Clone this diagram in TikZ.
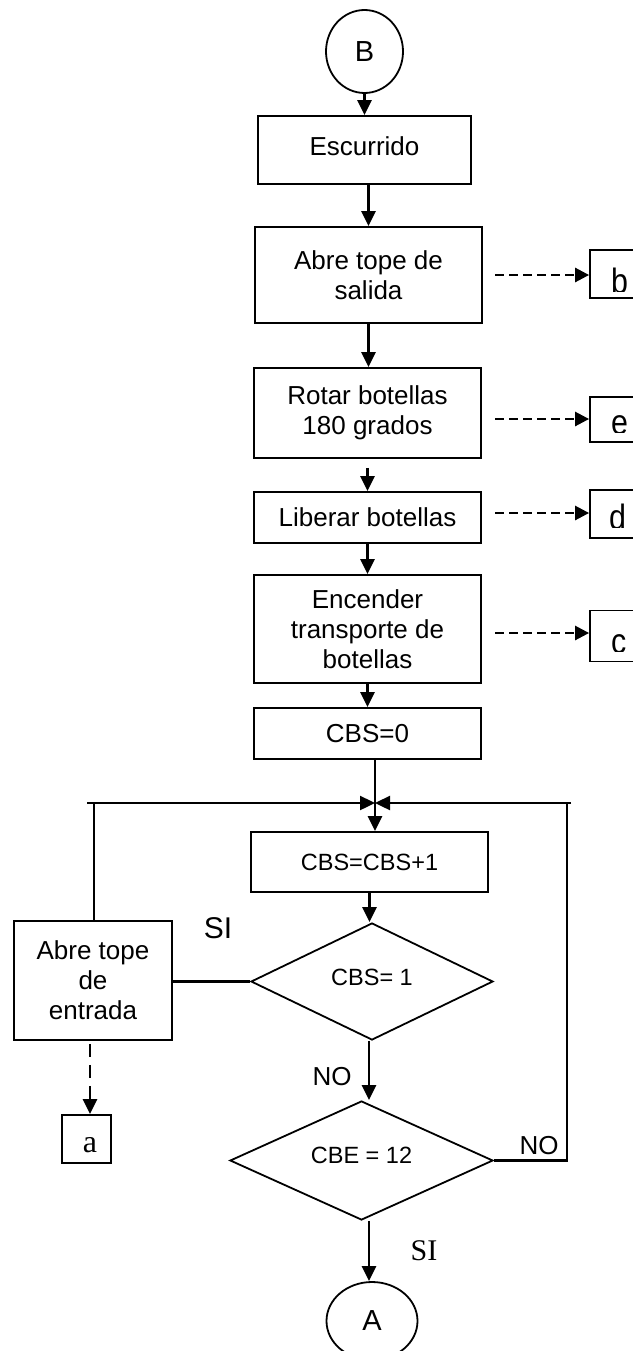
\documentclass[tikz,border=0pt]{standalone}
\usepackage{fontspec}
\setmainfont{Liberation Sans}
\newfontfamily\seriffont{Liberation Serif}
\usetikzlibrary{arrows.meta,shapes.geometric}
\begin{document}
\begin{tikzpicture}[x=1pt,y=-1pt,
  box/.style={draw,line width=1.8pt,inner sep=0pt,align=center,font=\fontsize{26}{30}\selectfont},
  dia/.style={draw,diamond,aspect=2,line width=1.8pt,inner sep=0pt,font=\fontsize{23.5}{28}\selectfont},
  term/.style={draw,ellipse,line width=1.8pt,inner sep=0pt,font=\fontsize{29}{34}\selectfont},
  conn/.style={line width=2.4pt},
  arr/.style={line width=2.4pt,-{Triangle[length=15pt,width=14pt]}},
  darr/.style={line width=2.6pt,dash pattern=on 8.5pt off 5.5pt,-{Triangle[length=14pt,width=14pt]}},
  darrv/.style={line width=2.8pt,dash pattern=on 13pt off 8pt,-{Triangle[length=15pt,width=14pt]}},
  letter/.style={anchor=base west,inner sep=0pt,font=\fontsize{32}{36}\selectfont},
  lbl/.style={inner sep=0pt,font=\fontsize{26}{30}\selectfont}
]
\useasboundingbox (0,0) rectangle (632,1351);

% terminals
\node[term,minimum width=77pt,minimum height=83pt] (B) at (364.5,51.5) {B};
\node[term,minimum width=91pt,minimum height=78pt] (A) at (372,1321) {A};

% process boxes
\node[box,minimum width=213pt,minimum height=68pt] (esc) at (364.5,150) {\raisebox{7pt}{Escurrido}};
\node[box,minimum width=227pt,minimum height=96pt] (abre) at (368.5,275) {Abre tope de\\salida};
\node[box,minimum width=227pt,minimum height=90pt] (rot) at (367.5,413) {Rotar botellas\\180 grados};
\node[box,minimum width=227pt,minimum height=51pt] (lib) at (367.5,517.5) {Liberar botellas};
\node[box,minimum width=227pt,minimum height=108pt] (enc) at (367.5,629) {Encender\\transporte de\\botellas};
\node[box,minimum width=227pt,minimum height=51pt] (cbs0) at (367.5,733.5) {CBS=0};
\node[box,minimum width=237pt,minimum height=60pt,font=\fontsize{23.5}{28}\selectfont] (cbs1) at (369.5,862) {CBS=CBS+1};
\node[box,minimum width=158pt,minimum height=119pt] (ent) at (93,980.5) {Abre tope\\de\\entrada};
\node[box,minimum width=49pt,minimum height=48pt] (abox) at (86.5,1139) {};
\node[inner sep=0pt,anchor=base,font=\seriffont\fontsize{32}{36}\selectfont] (atext) at (90,1152) {a};

% decisions
\node[dia,minimum width=242pt,minimum height=117pt] (d1) at (372,981.5) {\raisebox{9pt}{CBS= 1}};
\node[dia,minimum width=263pt,minimum height=119pt] (d2) at (361.5,1160.5) {\raisebox{10pt}{CBE = 12}};

% right connector boxes
\node[box,minimum width=60pt,minimum height=48pt] (rb) at (620,274) {};
\node[box,minimum width=60pt,minimum height=45pt] (re) at (620,419.5) {};
\node[box,minimum width=60pt,minimum height=48pt] (rd) at (620,514) {};
\node[box,minimum width=60pt,minimum height=51pt] (rc) at (620,636) {};
\begin{scope}
  \clip (592,252) rectangle (632,291.5);
  \node[letter] (tb) at (611,293) {\scalebox{0.95}[1.1]{b}};
\end{scope}
\begin{scope}
  \clip (592,399) rectangle (632,432.5);
  \node[letter] (te) at (611,434.5) {\scalebox{0.95}[1.1]{e}};
\end{scope}
\begin{scope}
  \clip (592,492) rectangle (632,527);
  \node[letter] (td) at (609,529) {\scalebox{0.95}[1.1]{d}};
\end{scope}
\begin{scope}
  \clip (592,612) rectangle (632,651);
  \node[letter] (tc) at (611,653.5) {\scalebox{0.95}[1.1]{c}};
\end{scope}

% labels
\node[inner sep=0pt,font=\fontsize{30}{34}\selectfont] (si1) at (218,928) {SI};
\node[lbl] (no1) at (332,1077) {NO};
\node[lbl] (no2) at (539,1146) {NO};
\node[inner sep=0pt,font=\seriffont\fontsize{30}{34}\selectfont] (si2) at (424,1251) {SI};

% coordinates
\coordinate (J) at (375,803);
\coordinate (HL) at (87,803);
\coordinate (HR) at (571,803);
\coordinate (VL) at (94,803);
\coordinate (VR) at (567,803);
\coordinate (x369) at (369,0);
\coordinate (by) at (495,275);
\coordinate (ey) at (495,419);
\coordinate (dy) at (495,513);
\coordinate (cy) at (495,633);

% main flow
\draw[arr] (B.south) -- (esc.north);
\draw[arr] (esc.south -| abre.north) -- (abre.north);
\draw[arr] (abre.south) -- (abre.south |- rot.north);
\draw[arr,shorten <=9pt] (rot.south) -- (rot.south |- lib.north);
\draw[arr] (lib.south) -- (lib.south |- enc.north);
\draw[arr] (enc.south) -- (enc.south |- cbs0.north);
\draw[arr] (cbs0.south -| J) -- (cbs1.north -| J);
\draw[arr] (HL) -- (J);
\draw[arr] (HR) -- (J);
\draw[conn] (ent.north -| VL) -- (VL);
\draw[arr] (cbs1.south) -- (cbs1.south |- d1.north);
\draw[conn] (d1.west) -- (d1.west -| ent.east);
\draw[arr] (d1.south -| x369) -- (d2.north -| x369);
\draw[conn] (d2.east) -| (VR);
\draw[arr] (d2.south -| x369) -- (A.north -| x369);

% dashed signals
\draw[darr] (by) -- (by -| rb.west);
\draw[darr] (ey) -- (ey -| re.west);
\draw[darr] (dy) -- (dy -| rd.west);
\draw[darr] (cy) -- (cy -| rc.west);
\draw[darrv,shorten <=3pt] (ent.south -| atext) -- (abox.north -| atext);
\end{tikzpicture}
\end{document}
